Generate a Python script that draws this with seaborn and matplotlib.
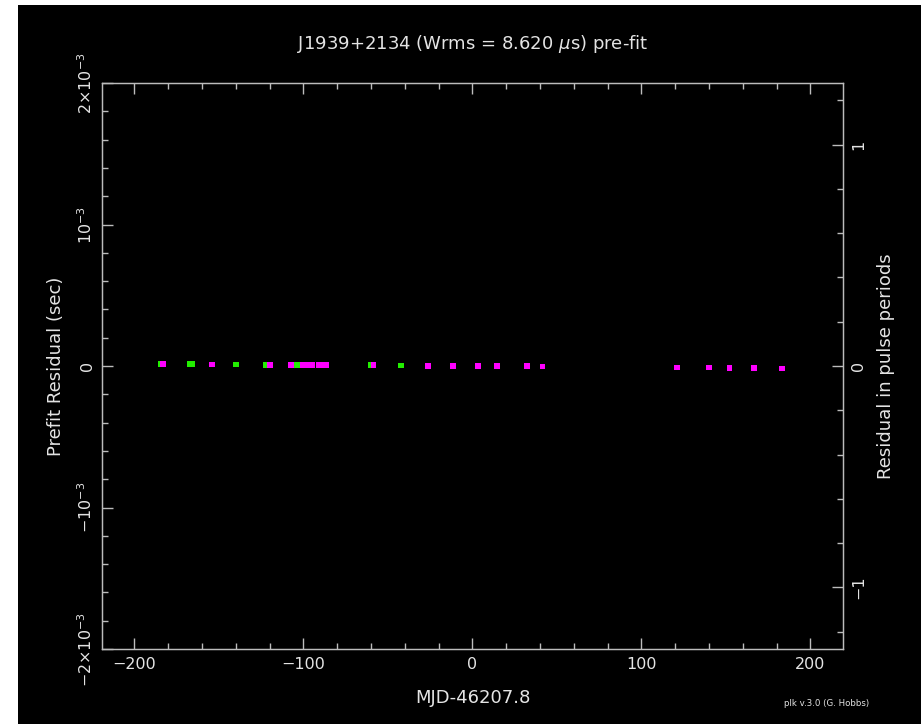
import numpy as np
import pandas as pd
import matplotlib
matplotlib.use('Agg')
import matplotlib.pyplot as plt
from matplotlib.ticker import MultipleLocator, FixedLocator
from matplotlib.patches import Rectangle
import seaborn as sns

# Pre-fit residuals, days from MJD 46207.8 and microseconds
green_days = [-184.2, -167.0, -165.6, -140.0, -122.2, -103.9, -60.1, -42.4, 166.6]
green_res_us = [13, 13, 13, 11, 9, 7, 5, 3, -15]
magenta_days = [-183.0, -154.2, -119.9, -107.3, -100.6, -97.8, -94.9, -90.8, -88.5,
                -86.3, -58.6, -26.2, -11.6, 3.4, 14.4, 32.2, 41.4, 121.1, 139.9,
                152.1, 166.6, 183.1]
magenta_res_us = [13, 11, 9, 8, 7, 7, 7, 7, 7, 7, 5, 2, 1, 0, -1, -2, -3, -10, -11,
                  -13, -15, -17]

x_ticks = [-200, -100, 0, 100, 200]
x_tick_labels = ['\u2212200', '\u2212100', '0', '100', '200']
y_ticks = [-2e-3, -1e-3, 0, 1e-3, 2e-3]
y_tick_labels = [r'$-2{\times}10^{-3}$', r'$-10^{-3}$', '0', r'$10^{-3}$', r'$2{\times}10^{-3}$']
period_ticks = [-1, 0, 1]
period_tick_labels = ['\u22121', '0', '1']
period_s = 1.5646e-3

# tabla larga: verde primero para que el magenta quede encima
df = pd.concat([
    pd.DataFrame({'day': green_days, 'res': np.array(green_res_us) * 1e-6, 'grp': 'green'}),
    pd.DataFrame({'day': magenta_days, 'res': np.array(magenta_res_us) * 1e-6, 'grp': 'magenta'}),
], ignore_index=True)

fg = '#e4e4e4'
edge = '#bcbcbc'

fig = plt.figure(figsize=(9.21, 7.24), dpi=100, facecolor='white')
fig.patches.append(Rectangle((18 / 921, 0), 1, 719 / 724, transform=fig.transFigure,
                             facecolor='black', edgecolor='none', zorder=-10))
ax = fig.add_axes([102 / 921, 75 / 724, 741 / 921, 566 / 724], facecolor='black')

sns.scatterplot(data=df, x='day', y='res', hue='grp',
                palette={'green': '#22ee00', 'magenta': '#ff00ff'},
                marker='s', s=17, linewidth=0, legend=False, ax=ax)

ax.set_xlim(-219.2, 219.3)
ax.set_ylim(-2e-3, 2e-3)
ax.xaxis.set_major_locator(FixedLocator(x_ticks))
ax.xaxis.set_minor_locator(MultipleLocator(20))
ax.yaxis.set_major_locator(FixedLocator(y_ticks))
ax.yaxis.set_minor_locator(MultipleLocator(2e-4))
ax.set_xticklabels(x_tick_labels)
ax.set_yticklabels(y_tick_labels, rotation=90, va='center')

for s in ax.spines.values():
    s.set_color(edge)
    s.set_linewidth(1.0)

ax.tick_params(which='both', direction='in', colors=edge, labelcolor=fg,
               top=True, bottom=True, left=True, right=False, labelsize=11.5)
ax.tick_params(which='major', length=8, width=1)
ax.tick_params(which='minor', length=4.5, width=1)
ax.tick_params(axis='x', pad=6)
ax.tick_params(axis='y', pad=5)

ax.set_xlabel('MJD-46207.8', color=fg, fontsize=13)
ax.set_ylabel('Prefit Residual (sec)', color=fg, fontsize=13)
ax.xaxis.set_label_coords(0.5, -0.071)
ax.yaxis.set_label_coords(-0.050, 0.5)

ax2 = ax.twinx()
ax2.set_ylim(-2e-3 / period_s, 2e-3 / period_s)
ax2.yaxis.set_major_locator(FixedLocator(period_ticks))
ax2.yaxis.set_minor_locator(MultipleLocator(0.2))
ax2.set_yticklabels(period_tick_labels, rotation=90, va='center')
ax2.tick_params(which='both', direction='in', colors=edge, labelcolor=fg,
                left=False, right=True, labelsize=11.5, pad=6)
ax2.tick_params(which='major', length=8, width=1)
ax2.tick_params(which='minor', length=4.5, width=1)
for s in ax2.spines.values():
    s.set_color(edge)
ax2.set_ylabel('Residual in pulse periods', color=fg, fontsize=13)
ax2.yaxis.set_label_coords(1.046, 0.5)

ax.text(0.5, 1.069, r'J1939+2134 (Wrms = 8.620 $\mu$s) pre-fit', transform=ax.transAxes,
        ha='center', va='center', color=fg, fontsize=13)
fig.text(827 / 921, 1 - 703 / 724, 'plk v.3.0 (G. Hobbs)', ha='center', va='center',
         color=fg, fontsize=6.2)

fig.savefig('out.png', dpi=100, facecolor=fig.get_facecolor())
